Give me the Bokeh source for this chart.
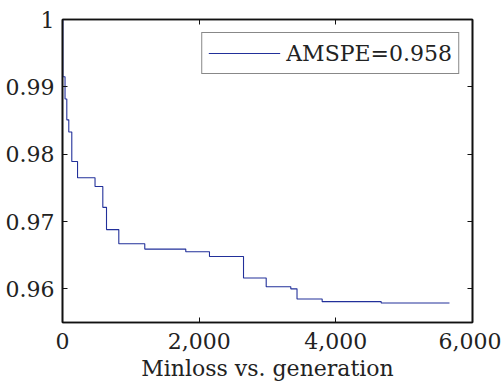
from bokeh.plotting import figure
from bokeh.models import (Range1d, FixedTicker, LinearAxis, NumeralTickFormatter,
                          CustomJSTickFormatter, Legend, LegendItem)
from bokeh.embed import file_html
from bokeh.resources import INLINE

# Data
generation = [0, 5, 37, 63, 92, 136, 220, 476, 590, 644, 824, 1204, 1804,
              2151, 2649, 2981, 3341, 3432, 3800, 4664, 5663]
minloss = [1.0, 0.9915, 0.9882, 0.9851, 0.9833, 0.9789, 0.9765, 0.9752,
           0.9721, 0.9688, 0.9667, 0.9659, 0.9655, 0.9648, 0.9616, 0.9603,
           0.9600, 0.9585, 0.9581, 0.9579, 0.9579]
x_ticks = [0, 2000, 4000, 6000]
y_ticks = [0.96, 0.97, 0.98, 0.99, 1.0]
legend_label = "AMSPE=0.958"
x_label = "Minloss vs. generation"

FONT = "DejaVu Serif"
FS = "22px"

p = figure(width=501, height=383, output_backend="svg", toolbar_location=None,
           x_range=Range1d(0, 6000), y_range=Range1d(0.955, 1.0),
           min_border_left=62, min_border_right=29, min_border_top=19,
           min_border_bottom=60, x_axis_location=None, y_axis_location=None)
p.background_fill_color = "white"
p.border_fill_color = "white"
p.grid.visible = False
p.outline_line_color = "#111111"
p.outline_line_width = 1.6

r = p.step(generation, minloss, mode="after", line_color="#22309a", line_width=1.1)

ypfmt = CustomJSTickFormatter(code="return (Math.round(tick*100)/100).toString();")
blank = CustomJSTickFormatter(code="return '';")


def style(ax):
    ax.major_tick_in = 5
    ax.major_tick_out = 0
    ax.minor_tick_line_color = None
    ax.axis_line_color = "#111111"
    ax.axis_line_width = 1.6
    ax.major_tick_line_color = "#111111"
    ax.major_tick_line_width = 1
    ax.major_label_text_font = FONT
    ax.major_label_text_font_size = FS
    ax.major_label_text_font_style = "normal"
    ax.major_label_text_color = "#222222"


xb = LinearAxis(ticker=FixedTicker(ticks=x_ticks),
                formatter=NumeralTickFormatter(format="0,0"),
                axis_label=x_label)
style(xb)
xb.major_label_standoff = 10
xb.axis_label_text_font = FONT
xb.axis_label_text_font_size = FS
xb.axis_label_text_font_style = "normal"
xb.axis_label_text_color = "#222222"
xb.axis_label_standoff = 4
p.add_layout(xb, "below")

xt = LinearAxis(ticker=FixedTicker(ticks=x_ticks), formatter=blank)
style(xt)
xt.major_label_standoff = 0
p.add_layout(xt, "above")

yl = LinearAxis(ticker=FixedTicker(ticks=y_ticks), formatter=ypfmt)
style(yl)
yl.major_label_standoff = 8
p.add_layout(yl, "left")

yr = LinearAxis(ticker=FixedTicker(ticks=y_ticks), formatter=blank)
style(yr)
yr.major_label_standoff = 0
p.add_layout(yr, "right")

legend = Legend(items=[LegendItem(label=legend_label, renderers=[r])],
                location="top_right")
legend.margin = 13
legend.padding = 6
legend.glyph_width = 72
legend.glyph_height = 28
legend.label_standoff = 6
legend.label_text_font = FONT
legend.label_text_font_size = FS
legend.label_text_color = "#222222"
legend.border_line_color = "#111111"
legend.border_line_width = 1.3
legend.background_fill_alpha = 1.0
p.add_layout(legend, "center")

open("out.html", "w").write(file_html(p, INLINE))
